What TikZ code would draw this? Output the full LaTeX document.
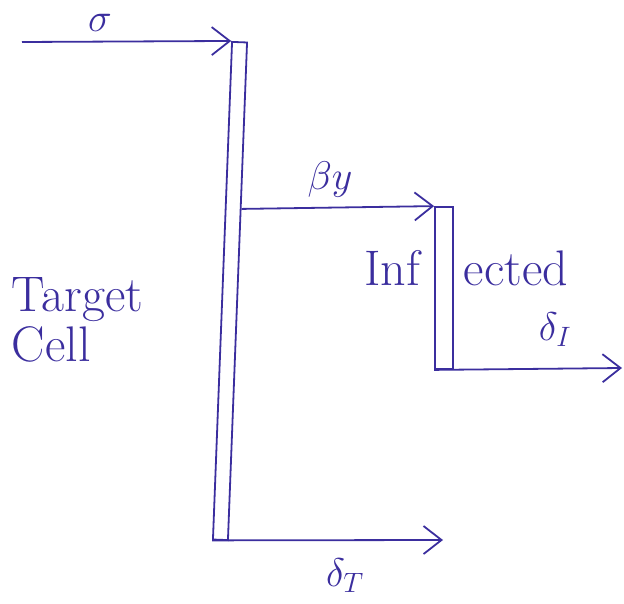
\RequirePackage{fix-cm}
\documentclass[tikz,border=0pt]{standalone}
\usepackage{xcolor}
\usepackage{tikz}
\usetikzlibrary{arrows.meta,positioning,calc}
\definecolor{ink}{HTML}{3B2E9E}
\newcommand{\hand}{\fontsize{40}{46}\selectfont}
\newcommand{\handword}{\fontsize{50}{50}\selectfont}

\begin{document}
\begin{tikzpicture}[x=1pt, y=-1pt, line width=1.8pt,
    flow/.style={ink, -{Straight Barb[length=18pt, width=28pt, line width=1.8pt]}},
    compart/.style={draw=ink, inner sep=0pt},
    lab/.style={text=ink, font=\hand, inner sep=1pt},
    word/.style={text=ink, font=\handword, inner sep=1pt}]
  \useasboundingbox (0,0) rectangle (624,604);

  % compartments
  \node[compart, minimum width=15pt, minimum height=498pt, rotate=-2.2]
    (target) at (230,291) {};
  \node[compart, minimum width=18pt, minimum height=162pt]
    (infected) at (444,288) {};

  \coordinate (sigmaIn) at (22,42);
  \coordinate (beta) at ($(target.north east)!0.335!(target.south east)$);
  \coordinate (dIOut) at (622,368);
  \coordinate (dTOut) at (443,540);

  % flows
  \draw[flow] (sigmaIn) -- (target.north west);
  \draw[flow] (beta) -- (infected.north west);
  \draw[flow] (infected.south west) -- (dIOut);
  \draw[flow] (target.south west) -- (dTOut);

  % labels
  \node[lab] (sigmaLab) at (100,23) {$\sigma$};
  \node[lab] (betaLab) at (330,180) {$\beta y$};
  \node[word, anchor=east] (infA) at (422,268) {Inf};
  \node[word, anchor=west] (infB) at (462,268) {ected};
  \node[lab] (dILab) at (555,330) {$\delta_I$};
  \node[word, align=left, anchor=west] (targetLab) at (10,320) {Target\\Cell};
  \node[lab] (dTLab) at (345,576) {$\delta_T$};
\end{tikzpicture}
\end{document}
